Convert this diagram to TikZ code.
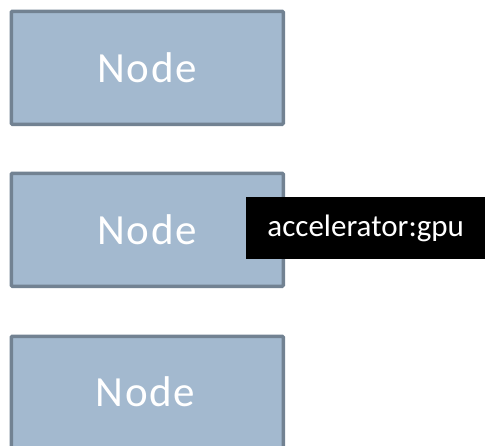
\documentclass[tikz,border=0pt]{standalone}
\usepackage{fontspec}
\setmainfont{Carlito}
\definecolor{boxfill}{RGB}{163,185,207}
\definecolor{boxline}{RGB}{114,130,146}
\begin{document}
\begin{tikzpicture}[x=1pt,y=-1pt,
  nodebox/.style={draw=boxline, fill=boxfill, line width=3.5pt, rounded corners=1pt,
    minimum width=272pt, minimum height=113pt, inner sep=0pt, anchor=north west,
    text=white, font=\fontsize{43}{50}\selectfont\addfontfeature{LetterSpace=4}},
  tag/.style={fill=black, text=white, inner sep=0pt, minimum width=239pt,
    minimum height=62pt, anchor=north west, font=\fontsize{31}{34}\selectfont}]
  \useasboundingbox (0,0) rectangle (487,445);
  \node[nodebox] (n1) at (9.5,9.5) {Node};
  \node[nodebox] (n2) at (9.5,171.5) {Node};
  \node[nodebox, minimum height=118pt] (n3) at (9.5,334.5) {};
  \node[text=white, font=\fontsize{43}{50}\selectfont\addfontfeature{LetterSpace=4}] (t3) at (145.5,392) {Node};
  \node[tag] (gpu) at (246,197) {accelerator:gpu};
\end{tikzpicture}
\end{document}
